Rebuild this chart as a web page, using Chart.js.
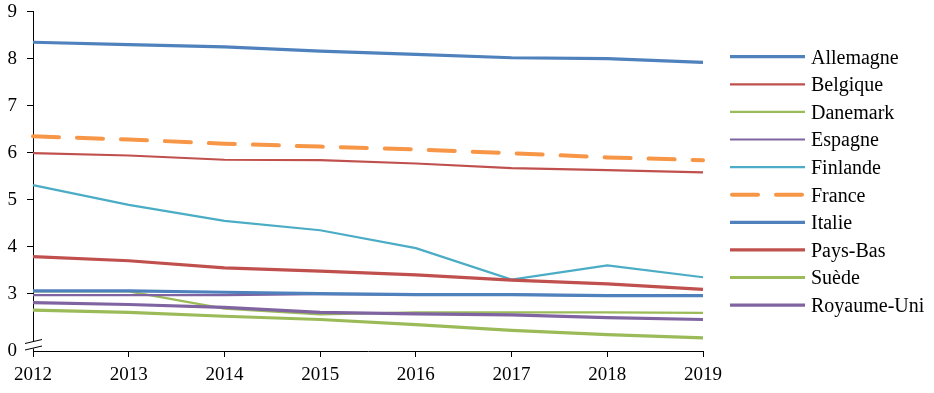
<!DOCTYPE html>
<html>
<head>
<meta charset="utf-8">
<script src="https://cdn.jsdelivr.net/npm/chart.js@4/dist/chart.umd.min.js"></script>
<style>
  html, body { margin: 0; padding: 0; background: #fff; }
  #wrap { width: 934px; height: 393px; position: relative; }
</style>
</head>
<body>
<div id="wrap"><canvas id="c" width="934" height="393"></canvas></div>
<script>
const years = ['2012', '2013', '2014', '2015', '2016', '2017', '2018', '2019'];
const countries = ['Allemagne', 'Belgique', 'Danemark', 'Espagne', 'Finlande', 'France', 'Italie', 'Pays-Bas', 'Suède', 'Royaume-Uni'];
const allemagne  = [8.35, 8.30, 8.25, 8.16, 8.09, 8.02, 8.00, 7.92];
const belgique   = [5.99, 5.94, 5.85, 5.84, 5.77, 5.67, 5.63, 5.58];
const danemark   = [3.05, 3.05, 2.68, 2.56, 2.60, 2.60, 2.60, 2.59];
const espagne    = [2.97, 2.97, 2.97, 2.99, 2.98, 2.98, 2.96, 2.96];
const finlande   = [5.31, 4.89, 4.55, 4.35, 3.97, 3.30, 3.60, 3.35];
const france     = [6.35, 6.28, 6.19, 6.13, 6.07, 5.99, 5.90, 5.84];
const italie     = [3.06, 3.06, 3.03, 3.00, 2.98, 2.98, 2.96, 2.96];
const paysBas    = [3.79, 3.70, 3.55, 3.48, 3.40, 3.29, 3.21, 3.09];
const suede      = [2.65, 2.60, 2.52, 2.45, 2.34, 2.22, 2.13, 2.06];
const royaumeUni = [2.81, 2.77, 2.71, 2.60, 2.57, 2.55, 2.49, 2.45];
const yTickValues = [3, 4, 5, 6, 7, 8, 9];
const yBreakLabel = '0';

const seriesValues = [allemagne, belgique, danemark, espagne, finlande, france, italie, paysBas, suede, royaumeUni];
const colors = ['#4F81BD', '#C0504D', '#9BBB59', '#8064A2', '#4BACC6', '#F79646', '#4F81BD', '#C0504D', '#9BBB59', '#8064A2'];
const widths = [3.2, 2.2, 2.2, 2.2, 2.2, 4, 3.2, 3.2, 3.2, 3.2];
const dashes = [[], [], [], [], [], [26, 18], [], [], [], []];

const FONT = "'Liberation Serif', serif";
const Y_MIN = 1.78;

const datasets = countries.map((name, i) => ({
  label: name,
  data: seriesValues[i],
  borderColor: colors[i],
  backgroundColor: colors[i],
  borderWidth: widths[i],
  borderDash: dashes[i],
  borderCapStyle: dashes[i].length ? 'round' : 'butt',
  pointRadius: 0,
  pointHoverRadius: 0,
  tension: 0,
  fill: false,
  order: countries.length - i
}));

const legendPlugin = {
  id: 'lineLegend',
  afterDraw(chart) {
    const ctx = chart.ctx;
    ctx.save();
    const x0 = 730, x1 = 805, tx = 811, y0 = 56.7, dy = 27.6;
    chart.data.datasets.forEach((ds, i) => {
      const y = y0 + i * dy;
      ctx.beginPath();
      ctx.strokeStyle = ds.borderColor;
      ctx.lineWidth = ds.borderWidth;
      ctx.setLineDash(ds.borderDash || []);
      ctx.lineCap = ds.borderCapStyle;
      ctx.moveTo(x0 + (ds.borderDash.length ? 2 : 0), y);
      ctx.lineTo(x1 - (ds.borderDash.length ? 2 : 0), y);
      ctx.stroke();
      ctx.setLineDash([]);
      ctx.fillStyle = '#000';
      ctx.font = '20px ' + FONT;
      ctx.textBaseline = 'alphabetic';
      ctx.textAlign = 'left';
      ctx.fillText(ds.label, tx, y + 6.8);
    });
    ctx.restore();
  }
};

const breakPlugin = {
  id: 'axisBreak',
  afterDraw(chart) {
    const ctx = chart.ctx;
    const x = chart.scales.y.left + chart.scales.y.width;
    const b = chart.chartArea.bottom;
    ctx.save();
    ctx.fillStyle = '#fff';
    ctx.beginPath();
    ctx.moveTo(x - 8, b - 7.5);
    ctx.lineTo(x + 9, b - 11.5);
    ctx.lineTo(x + 9, b - 4.5);
    ctx.lineTo(x - 8, b - 0.5);
    ctx.closePath();
    ctx.fill();
    ctx.strokeStyle = '#000';
    ctx.lineWidth = 1;
    ctx.beginPath();
    ctx.moveTo(x - 8, b - 7.5);
    ctx.lineTo(x + 9, b - 11.5);
    ctx.moveTo(x - 8, b - 1);
    ctx.lineTo(x + 9, b - 5);
    ctx.stroke();
    ctx.restore();
  }
};

new Chart(document.getElementById('c'), {
  type: 'line',
  data: { labels: years, datasets },
  plugins: [legendPlugin, breakPlugin],
  options: {
    responsive: false,
    animation: false,
    devicePixelRatio: 1,
    layout: { padding: { top: 0, right: 231, left: 0, bottom: 0 } },
    plugins: { legend: { display: false }, tooltip: { enabled: false } },
    scales: {
      x: {
        offset: false,
        border: { display: true, color: '#000', width: 1 },
        grid: { display: true, drawOnChartArea: false, drawTicks: true, tickLength: 6, color: '#000' },
        ticks: { color: '#000', font: { family: FONT, size: 19 }, maxRotation: 0, autoSkip: false, padding: 7 },
        afterFit(scale) { scale.height = 42; }
      },
      y: {
        min: Y_MIN,
        max: 9,
        border: { display: true, color: '#000', width: 1 },
        grid: {
          display: true, drawOnChartArea: false, drawTicks: true, tickLength: 6,
          tickColor: (c) => (c.tick && c.tick.value < 2.5 ? 'rgba(0,0,0,0)' : '#000'),
          color: '#000'
        },
        afterBuildTicks(scale) {
          scale.ticks = [{ value: Y_MIN }].concat(yTickValues.map(v => ({ value: v })));
        },
        ticks: {
          color: '#000', font: { family: FONT, size: 19, lineHeight: 1.2 }, padding: 10, autoSkip: false,
          callback: (v) => (v < 2.5 ? yBreakLabel : String(v))
        },
        afterFit(scale) { scale.width = 33; scale.paddingTop = 11.7; scale.paddingBottom = 0; }
      }
    }
  }
});
</script>
</body>
</html>
